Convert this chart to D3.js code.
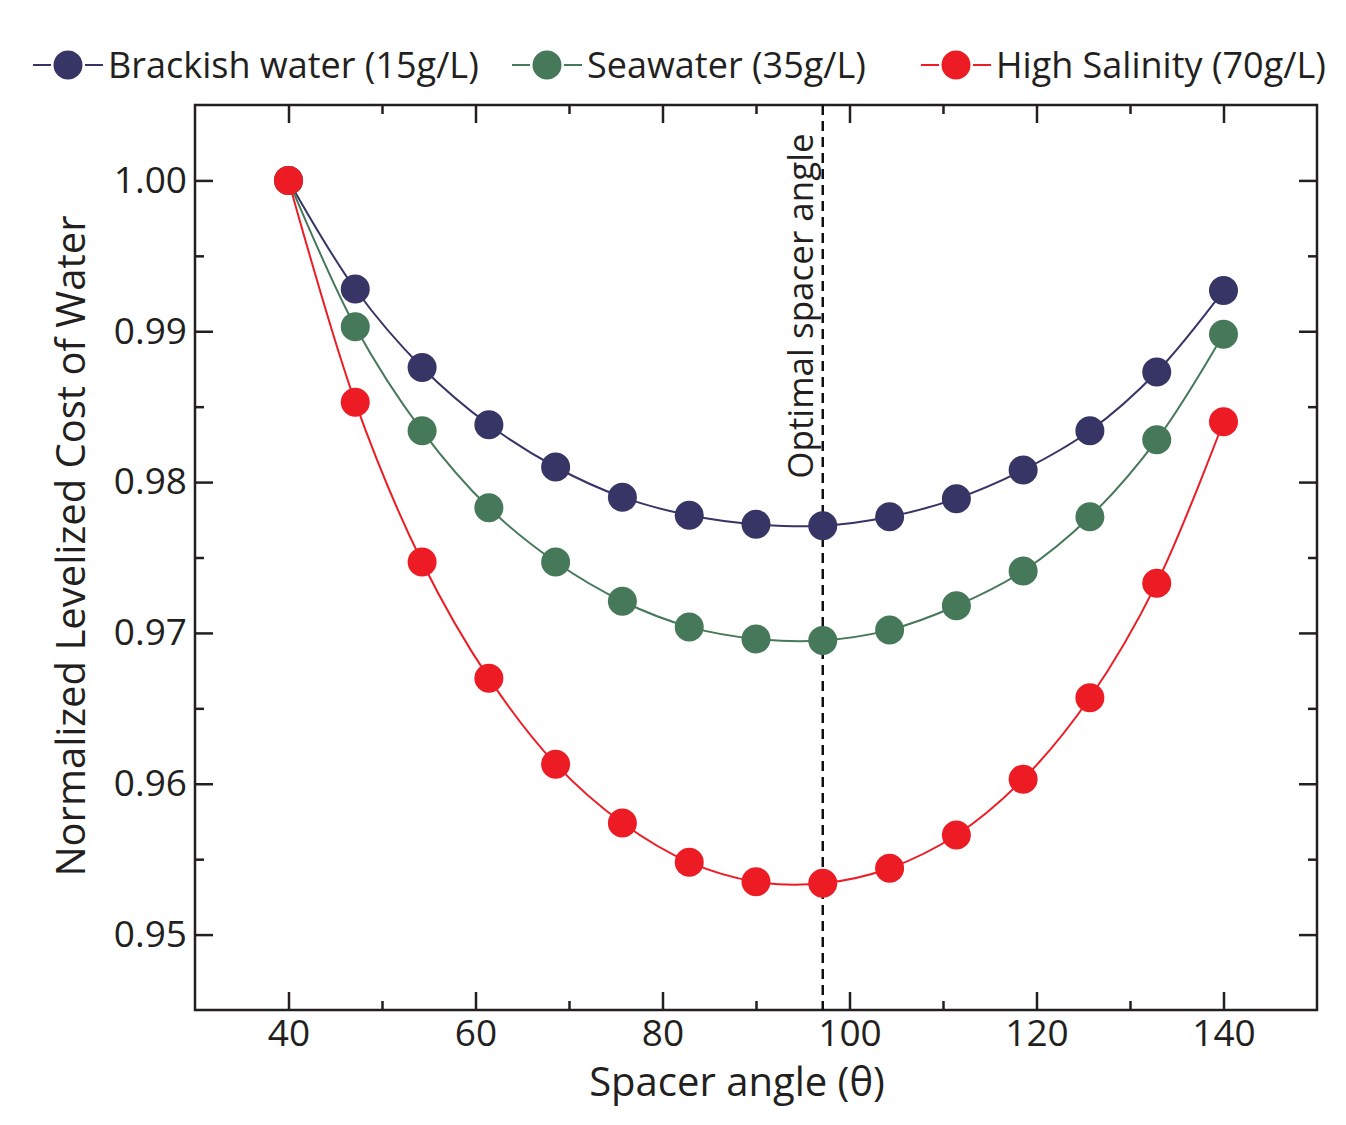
<!DOCTYPE html>
<html>
<head>
<meta charset="utf-8">
<script src="https://cdn.jsdelivr.net/npm/d3@7"></script>
<style>
  body { margin: 0; background: #fff; }
  svg text { font-family: "Open Sans", "Noto Sans", sans-serif; fill: #231f20; }
</style>
</head>
<body>
<svg width="1346" height="1125"></svg>
<script>
// spacer angles (deg)
let angles = [40, 47.14, 54.29, 61.43, 68.57, 75.71, 82.86, 90, 97.14, 104.29, 111.43, 118.57, 125.71, 132.86, 140];

let brackish = [1.0, 0.9928, 0.9876, 0.9838, 0.9810, 0.9790, 0.9778, 0.9772, 0.9771, 0.9777, 0.9789, 0.9808, 0.9834, 0.9873, 0.9927];
let seawater = [1.0, 0.9903, 0.9834, 0.9783, 0.9747, 0.9721, 0.9704, 0.9696, 0.9695, 0.9702, 0.9718, 0.9741, 0.9777, 0.9828, 0.9898];
let highSal  = [1.0, 0.9853, 0.9747, 0.9670, 0.9613, 0.9574, 0.9548, 0.9535, 0.9534, 0.9544, 0.9566, 0.9603, 0.9657, 0.9733, 0.9840];

let seriesNames = ["Brackish water (15g/L)", "Seawater (35g/L)", "High Salinity (70g/L)"];
let seriesColors = ["#363566", "#46785a", "#ed1c24"];
let optimalAngle = 97.14;

let xTicks = [40, 60, 80, 100, 120, 140];
let yTicks = [0.95, 0.96, 0.97, 0.98, 0.99, 1.00];

let svg = d3.select("svg");
let mLeft = 195, mRight = 1317, mTop = 105, mBottom = 1010;

let x = d3.scaleLinear().domain([30, 150]).range([mLeft, mRight]);
let y = d3.scaleLinear().domain([0.945, 1.005]).range([mBottom, mTop]);

let ink = "#231f20";

// axes with inward ticks: major + minor
function addAxis(axisFn, scale, major, minor, transform, labels, pad) {
    let gMinor = svg.append("g").attr("transform", transform)
        .call(axisFn(scale).tickValues(minor).tickSize(-9).tickFormat(""));
    gMinor.select(".domain").remove();
    let g = svg.append("g").attr("transform", transform)
        .call(axisFn(scale).tickValues(major).tickSize(-18).tickPadding(pad || 10)
            .tickFormat(labels ? labels : ""));
    g.select(".domain").remove();
    svg.selectAll(".tick line").attr("stroke", ink).attr("stroke-width", 2.5);
    g.selectAll("text").style("font-size", "37px").attr("fill", ink);
    return g;
}

let xMinor = [50, 70, 90, 110, 130];
let yMinor = [0.955, 0.965, 0.975, 0.985, 0.995];

let gx = addAxis(d3.axisBottom, x, xTicks, xMinor, `translate(0,${mBottom})`, d3.format("d"));
gx.selectAll("text").attr("y", 36).attr("dy", 0);
addAxis(d3.axisTop, x, xTicks, xMinor, `translate(0,${mTop})`, null);
addAxis(d3.axisLeft, y, yTicks, yMinor, `translate(${mLeft},0)`, d3.format(".2f"), 8);
addAxis(d3.axisRight, y, yTicks, yMinor, `translate(${mRight},0)`, null);

svg.append("rect")
    .attr("x", mLeft).attr("y", mTop)
    .attr("width", mRight - mLeft).attr("height", mBottom - mTop)
    .attr("fill", "none").attr("stroke", ink).attr("stroke-width", 2.5);

// optimal angle marker
svg.append("line")
    .attr("x1", x(optimalAngle)).attr("x2", x(optimalAngle))
    .attr("y1", mTop).attr("y2", mBottom)
    .attr("stroke", "#111").attr("stroke-width", 2.5)
    .attr("stroke-dasharray", "10,6");

svg.append("text")
    .attr("transform", `translate(${x(optimalAngle) - 10},306) rotate(-90)`)
    .attr("text-anchor", "middle")
    .style("font-size", "35px")
    .text("Optimal spacer angle");

// series
let allSeries = [brackish, seawater, highSal];
let line = d3.line()
    .x((d, i) => x(angles[i]))
    .y((d) => y(d))
    .curve(d3.curveCatmullRom.alpha(0.5));

allSeries.forEach((vals, k) => {
    svg.append("path")
        .attr("d", line(vals))
        .attr("fill", "none")
        .attr("stroke", seriesColors[k])
        .attr("stroke-width", 2);
});
allSeries.forEach((vals, k) => {
    svg.append("g").selectAll("circle")
        .data(vals)
        .enter()
        .append("circle")
        .attr("cx", (d, i) => x(angles[i]))
        .attr("cy", (d) => y(d))
        .attr("r", 14.5)
        .attr("fill", seriesColors[k]);
});

// legend
let legendX = [33, 512, 921];
let legend = svg.append("g").selectAll("g")
    .data(seriesNames)
    .enter()
    .append("g")
    .attr("transform", (d, i) => `translate(${legendX[i]},65)`);

legend.append("line").attr("x1", 0).attr("x2", 18).attr("y1", 0).attr("y2", 0)
    .attr("stroke", (d, i) => seriesColors[i]).attr("stroke-width", 2);
legend.append("line").attr("x1", 52).attr("x2", 70).attr("y1", 0).attr("y2", 0)
    .attr("stroke", (d, i) => seriesColors[i]).attr("stroke-width", 2);
legend.append("circle").attr("cx", 35).attr("cy", 0).attr("r", 14.5)
    .attr("fill", (d, i) => seriesColors[i]);
legend.append("text")
    .attr("x", 75).attr("y", 13)
    .style("font-size", "36px")
    .text((d) => d);

// axis titles
svg.append("text")
    .attr("x", 737).attr("y", 1096)
    .attr("text-anchor", "middle")
    .style("font-size", "40px")
    .text("Spacer angle (θ)");

svg.append("text")
    .attr("transform", "translate(85,546) rotate(-90)")
    .attr("text-anchor", "middle")
    .style("font-size", "40px")
    .text("Normalized Levelized Cost of Water");
</script>
</body>
</html>
